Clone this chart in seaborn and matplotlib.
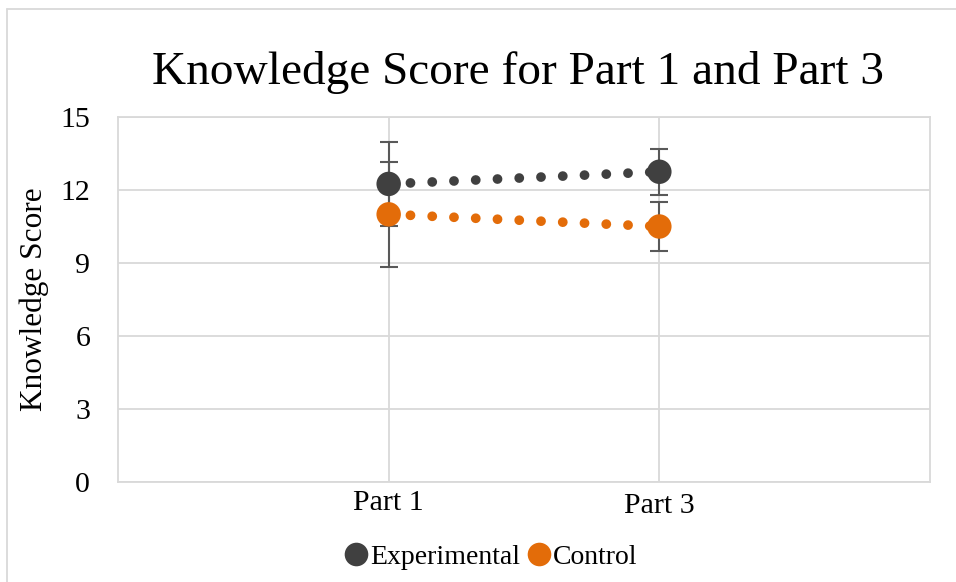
import matplotlib.pyplot as plt
import matplotlib.transforms as mtransforms
from matplotlib.lines import Line2D
import pandas as pd
import seaborn as sns

# Data
parts = ["Part 1", "Part 3"]
part_pos = [1, 2]
experimental = [12.25, 12.75]
experimental_err = [1.72, 0.95]
control = [11.0, 10.5]
control_err = [2.17, 1.0]

groups = ["Experimental", "Control"]
colors = {"Experimental": "#404040", "Control": "#E36C09"}

df = pd.DataFrame({
    "x": part_pos * 2,
    "score": experimental + control,
    "err": experimental_err + control_err,
    "group": ["Experimental"] * 2 + ["Control"] * 2,
})

sns.set_style("white")
plt.rcParams["font.family"] = ["Liberation Serif", "DejaVu Serif"]
plt.rcParams["text.color"] = "black"
plt.rcParams["axes.labelcolor"] = "black"

fig = plt.figure(figsize=(9.56, 5.82), dpi=100)
ax = fig.add_axes([118 / 956, 1 - 482 / 582, (930 - 118) / 956, (482 - 117) / 582])

grid_c = "#D9D9D9"

# error bars
for g in groups:
    sub = df[df["group"] == g]
    ax.errorbar(sub["x"], sub["score"], yerr=sub["err"], fmt="none",
                ecolor="#595959", elinewidth=1.5, capsize=6.5, capthick=1.5, zorder=2)

# dotted trend lines
for g in groups:
    sub = df[df["group"] == g]
    sns.lineplot(data=sub, x="x", y="score", ax=ax, color=colors[g], linewidth=7.0,
                 linestyle=(0, (0.01, 2.23)), dash_capstyle="round", zorder=3, legend=False)

sns.scatterplot(data=df, x="x", y="score", hue="group", palette=colors, s=310,
                edgecolor="none", ax=ax, zorder=4, legend=False)

ax.set_xlim(0, 3)
ax.set_ylim(0, 15)
ax.set_yticks([0, 3, 6, 9, 12, 15])
ax.set_xticks(part_pos)
ax.set_xticklabels(parts)
ax.grid(True, color=grid_c, linewidth=1.3)
ax.set_axisbelow(True)
for s in ax.spines.values():
    s.set_color(grid_c)
    s.set_linewidth(1.3)
ax.tick_params(length=0, labelsize=21.5, colors="black")
ax.tick_params(axis="y", pad=20)
ax.tick_params(axis="x", pad=6)

# Part 3 label sits a touch lower in the original
lbl = ax.get_xticklabels()[1]
lbl.set_transform(lbl.get_transform() + mtransforms.ScaledTranslation(0, -3 / 100, fig.dpi_scale_trans))

ax.set_xlabel("")
ax.set_ylabel("Knowledge Score", fontsize=22.5)
ax.yaxis.set_label_coords(-0.085, 0.5)

fig.text(518 / 956, 1 - 72 / 582, "Knowledge Score for Part 1 and Part 3",
         ha="center", va="center", fontsize=34)

handles = [Line2D([], [], marker="o", linestyle="none", markersize=17,
                  markerfacecolor=colors[g], markeredgecolor="none") for g in groups]
fig.legend(handles, groups, loc="center", bbox_to_anchor=(490 / 956, 1 - 557 / 582),
           ncol=2, frameon=False, fontsize=20, handletextpad=0.0, columnspacing=0.2,
           handlelength=1.0)

# outer chart border
fig.add_artist(Line2D([7 / 956, 7 / 956], [0, 1 - 9 / 582], color=grid_c, linewidth=1.3,
                      transform=fig.transFigure))
fig.add_artist(Line2D([7 / 956, 1], [1 - 9 / 582, 1 - 9 / 582], color=grid_c, linewidth=1.3,
                      transform=fig.transFigure))

fig.savefig("out.png", dpi=100)
